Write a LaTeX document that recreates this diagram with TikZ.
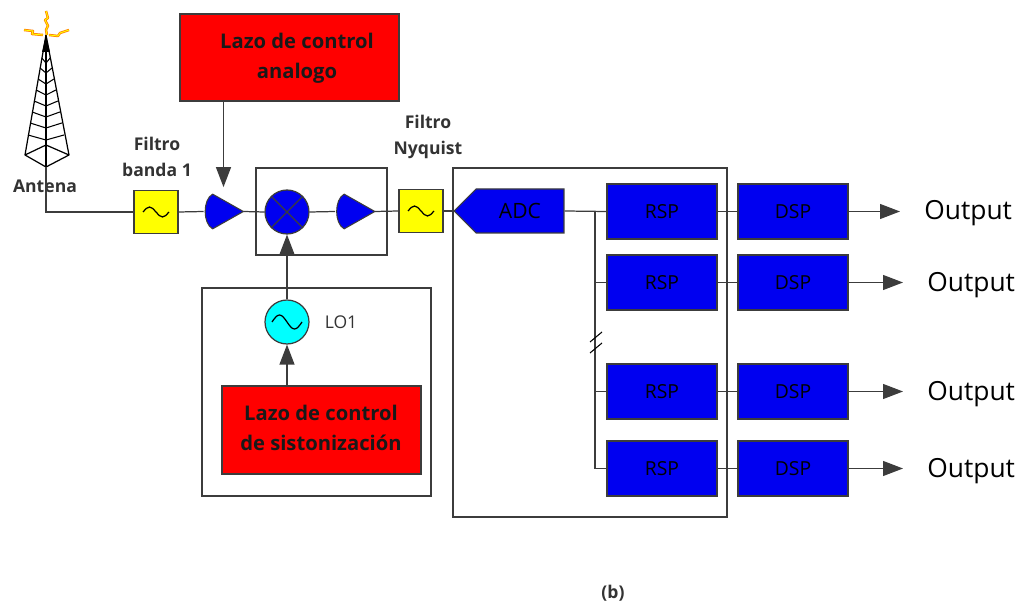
\documentclass[tikz,border=0pt]{standalone}
\usepackage{fontspec}
\setmainfont{Open Sans}
\usetikzlibrary{shapes.symbols, arrows.meta, calc}
\definecolor{Line_Gray}{HTML}{3C3C3C}
\definecolor{Box_Red}{HTML}{FF0000}
\definecolor{Box_Blue}{HTML}{0000F0}
\definecolor{Box_Yellow}{HTML}{FFFF00}
\definecolor{Box_Cyan}{HTML}{00FFFF}
\tikzset{
    conn/.style={draw=Line_Gray, line width=0.7pt},
    head/.style={conn, -{Triangle[length=0.4cm, width=0.3cm]}},
    framebox/.style={draw=Line_Gray, line width=0.7pt, inner sep=0},
    redbox/.style={draw=Line_Gray, fill=Box_Red, line width=0.6pt, inner sep=0, minimum width=#1},
    bluebox/.style={draw=Line_Gray, fill=Box_Blue, line width=0.6pt, inner sep=0, minimum width=2.2cm, minimum height=1.1cm, font=\fontsize{11}{13}\selectfont},
    filterbox/.style={draw=Line_Gray, fill=Box_Yellow, line width=0.6pt, inner sep=0, minimum width=0.88cm, minimum height=0.86cm},
    ampbox/.style={inner sep=0, minimum width=0.78cm, minimum height=0.68cm},
    label/.style={font=\fontsize{10}{14.5}\selectfont\bfseries, align=center, text=black!80},
    redlabel/.style={font=\fontsize{11.5}{16.8}\selectfont\bfseries, align=center, text=black!90},
    outlabel/.style={font=\fontsize{15}{18}\selectfont, anchor=west, inner sep=0, inner xsep=0.48cm},
    bolt/.style={draw=orange, line width=1.4pt, line join=round},
    boltcore/.style={draw=Box_Yellow, line width=0.5pt, line join=round}
}
% amplifier drawn inside its node
\newcommand{\ampsym}[1]{
    \draw[fill=Box_Blue, draw=Line_Gray, line width=0.6pt, line join=round] (#1.east)
        -- ($(#1.north west)+(9,0)$)
        .. controls ($(#1.west)+(-1,-12)$) and ($(#1.west)+(-1,12)$) .. ($(#1.south west)+(9,0)$)
        -- cycle;
}
% wave inside filters and oscillator
\newcommand{\wavesym}[3]{
    \draw[black, line width=0.7pt] ($(#1)+(-#2,0)$) sin ++(#2/2,-#3) cos ++(#2/2,#3)
        sin ++(#2/2,#3) cos ++(#2/2,-#3);
}
\begin{document}
\begin{tikzpicture}[x=0.02cm, y=-0.02cm]
    \useasboundingbox (0,0) rectangle (1019,604);
    % frames
    \node[framebox, minimum width=2.62cm, minimum height=1.74cm] (mixframe) at (321.5,211.5) {};
    \node[framebox, minimum width=4.58cm, minimum height=4.16cm] (loframe) at (316.5,392) {};
    \node[framebox, minimum width=5.48cm, minimum height=6.98cm] (dspframe) at (590,342.5) {};
    % antenna tower
    \coordinate (ant) at (46,167);
    \draw[black, line width=0.7pt, line join=round] (46,35) -- (25,155) -- (ant) -- (69,155) -- cycle;
    \draw[black, line width=0.7pt] (46,35) -- (ant);
    \draw[black, line width=0.7pt] (25,155) -- (46,145) -- (69,155);
    \foreach \ypos in {58,68,79,90,101,112,123,135} {
        \draw[black, line width=0.6pt] ({46-(\ypos-35)*0.18},\ypos) -- (46,\ypos+5) -- ({46+(\ypos-35)*0.18},\ypos);
    }
    \fill[black] (46,35) -- (42,52) -- (50,52) -- cycle;
    % sparks on the top
    \foreach \st in {bolt, boltcore} {
        \draw[\st] (46,11) -- (48,18) -- (45,20) -- (48,26) -- (46,30) -- (47,35);
        \draw[\st] (24,30) -- (33,31) -- (32,34) -- (43,35);
        \draw[\st] (69,30) -- (60,33) -- (58,36) -- (49,35);
    }
    \node[label] (antlabel) at (45,186) {Antena};
    % front end
    \node[filterbox] (flt1) at (156,212) {};
    \node[ampbox] (amp1) at (223.5,211.5) {};
    \node[circle, draw=Line_Gray, fill=Box_Blue, line width=0.7pt, inner sep=0, minimum size=0.88cm] (mix) at (287,212) {};
    \node[ampbox] (amp2) at (355,211.5) {};
    \node[filterbox] (flt2) at (421,211) {};
    \node[signal, signal from=nowhere, signal to=west, draw=Line_Gray, fill=Box_Blue, line width=0.6pt, inner sep=0,
        minimum width=2.2cm, minimum height=0.88cm, font=\fontsize{12}{14}\selectfont] (adc) at (520,211) {ADC};
    \ampsym{amp1}
    \ampsym{amp2}
    \wavesym{flt1}{13}{5}
    \wavesym{flt2}{13}{5}
    \draw[Line_Gray, line width=0.7pt] (mix.north west) -- (mix.south east);
    \draw[Line_Gray, line width=0.7pt] (mix.north east) -- (mix.south west);
    \node[label] (flt1label) at (157,157) {Filtro\\banda 1};
    \node[label] (flt2label) at (428,137) {Filtro\\Nyquist};
    % control loops
    \node[redbox=4.38cm, minimum height=1.74cm] (lazo1) at (289.5,57.5) {};
    \node[redlabel] (lazo1text) at (297,58) {Lazo de control\\analogo};
    \node[redbox=3.98cm, minimum height=1.76cm] (lazo2) at (321.5,430) {};
    \node[redlabel] (lazo2text) at (321,428) {Lazo de control\\de sistonización};
    \node[circle, draw=Line_Gray, fill=Box_Cyan, line width=0.7pt, inner sep=0, minimum size=0.88cm] (lo) at (287,322) {};
    \wavesym{lo}{15}{7}
    \node[font=\fontsize{10}{12}\selectfont, text=black!80] (lolabel) at (341,322) {LO1};
    % channels
    \node[bluebox] (rsp1) at (662,211.5) {RSP};
    \node[bluebox] (rsp2) at (662,282.5) {RSP};
    \node[bluebox] (rsp3) at (662,391.5) {RSP};
    \node[bluebox] (rsp4) at (662,468.5) {RSP};
    \node[bluebox] (dsp1) at (793,211.5) {DSP};
    \node[bluebox] (dsp2) at (793,282.5) {DSP};
    \node[bluebox] (dsp3) at (793,391.5) {DSP};
    \node[bluebox] (dsp4) at (793,468.5) {DSP};
    \node[outlabel] (out1) at (900,213) {Output};
    \node[outlabel] (out2) at (903,285) {Output};
    \node[outlabel] (out3) at (903,394) {Output};
    \node[outlabel] (out4) at (903,471) {Output};
    % connectors
    \draw[conn] (ant) |- (flt1.west);
    \draw[conn] (flt1.east) -- (amp1.west);
    \draw[conn] (amp1.east) -- (mix.west);
    \draw[conn] (mix.east) -- (amp2.west);
    \draw[conn] (amp2.east) -- (flt2.west);
    \draw[conn] (flt2.east) -- (adc.west);
    \draw[conn] (adc.east) -- (rsp1.west);
    \coordinate (bus) at (595,211.5);
    \draw[conn] (bus) -- (bus |- rsp4.west) -- (rsp4.west);
    \draw[conn] (bus |- rsp2.west) -- (rsp2.west);
    \draw[conn] (bus |- rsp3.west) -- (rsp3.west);
    \draw[black, line width=0.6pt] (590,342) -- (602,332);
    \draw[black, line width=0.6pt] (590,353) -- (602,343);
    \foreach \row in {1,2,3,4} {
        \draw[conn] (rsp\row.east) -- (dsp\row.west);
        \draw[head] (dsp\row.east) -- (dsp\row.east -| out\row.west);
    }
    \draw[head, shorten >=4pt] (amp1.north |- lazo1.south) -- (amp1.north);
    \draw[head] (lo.north) -- (mix.south);
    \draw[head] (lo.south |- lazo2.north) -- (lo.south);
    % caption
    \node[label] (caption) at (613,593) {(b)};
\end{tikzpicture}
\end{document}
